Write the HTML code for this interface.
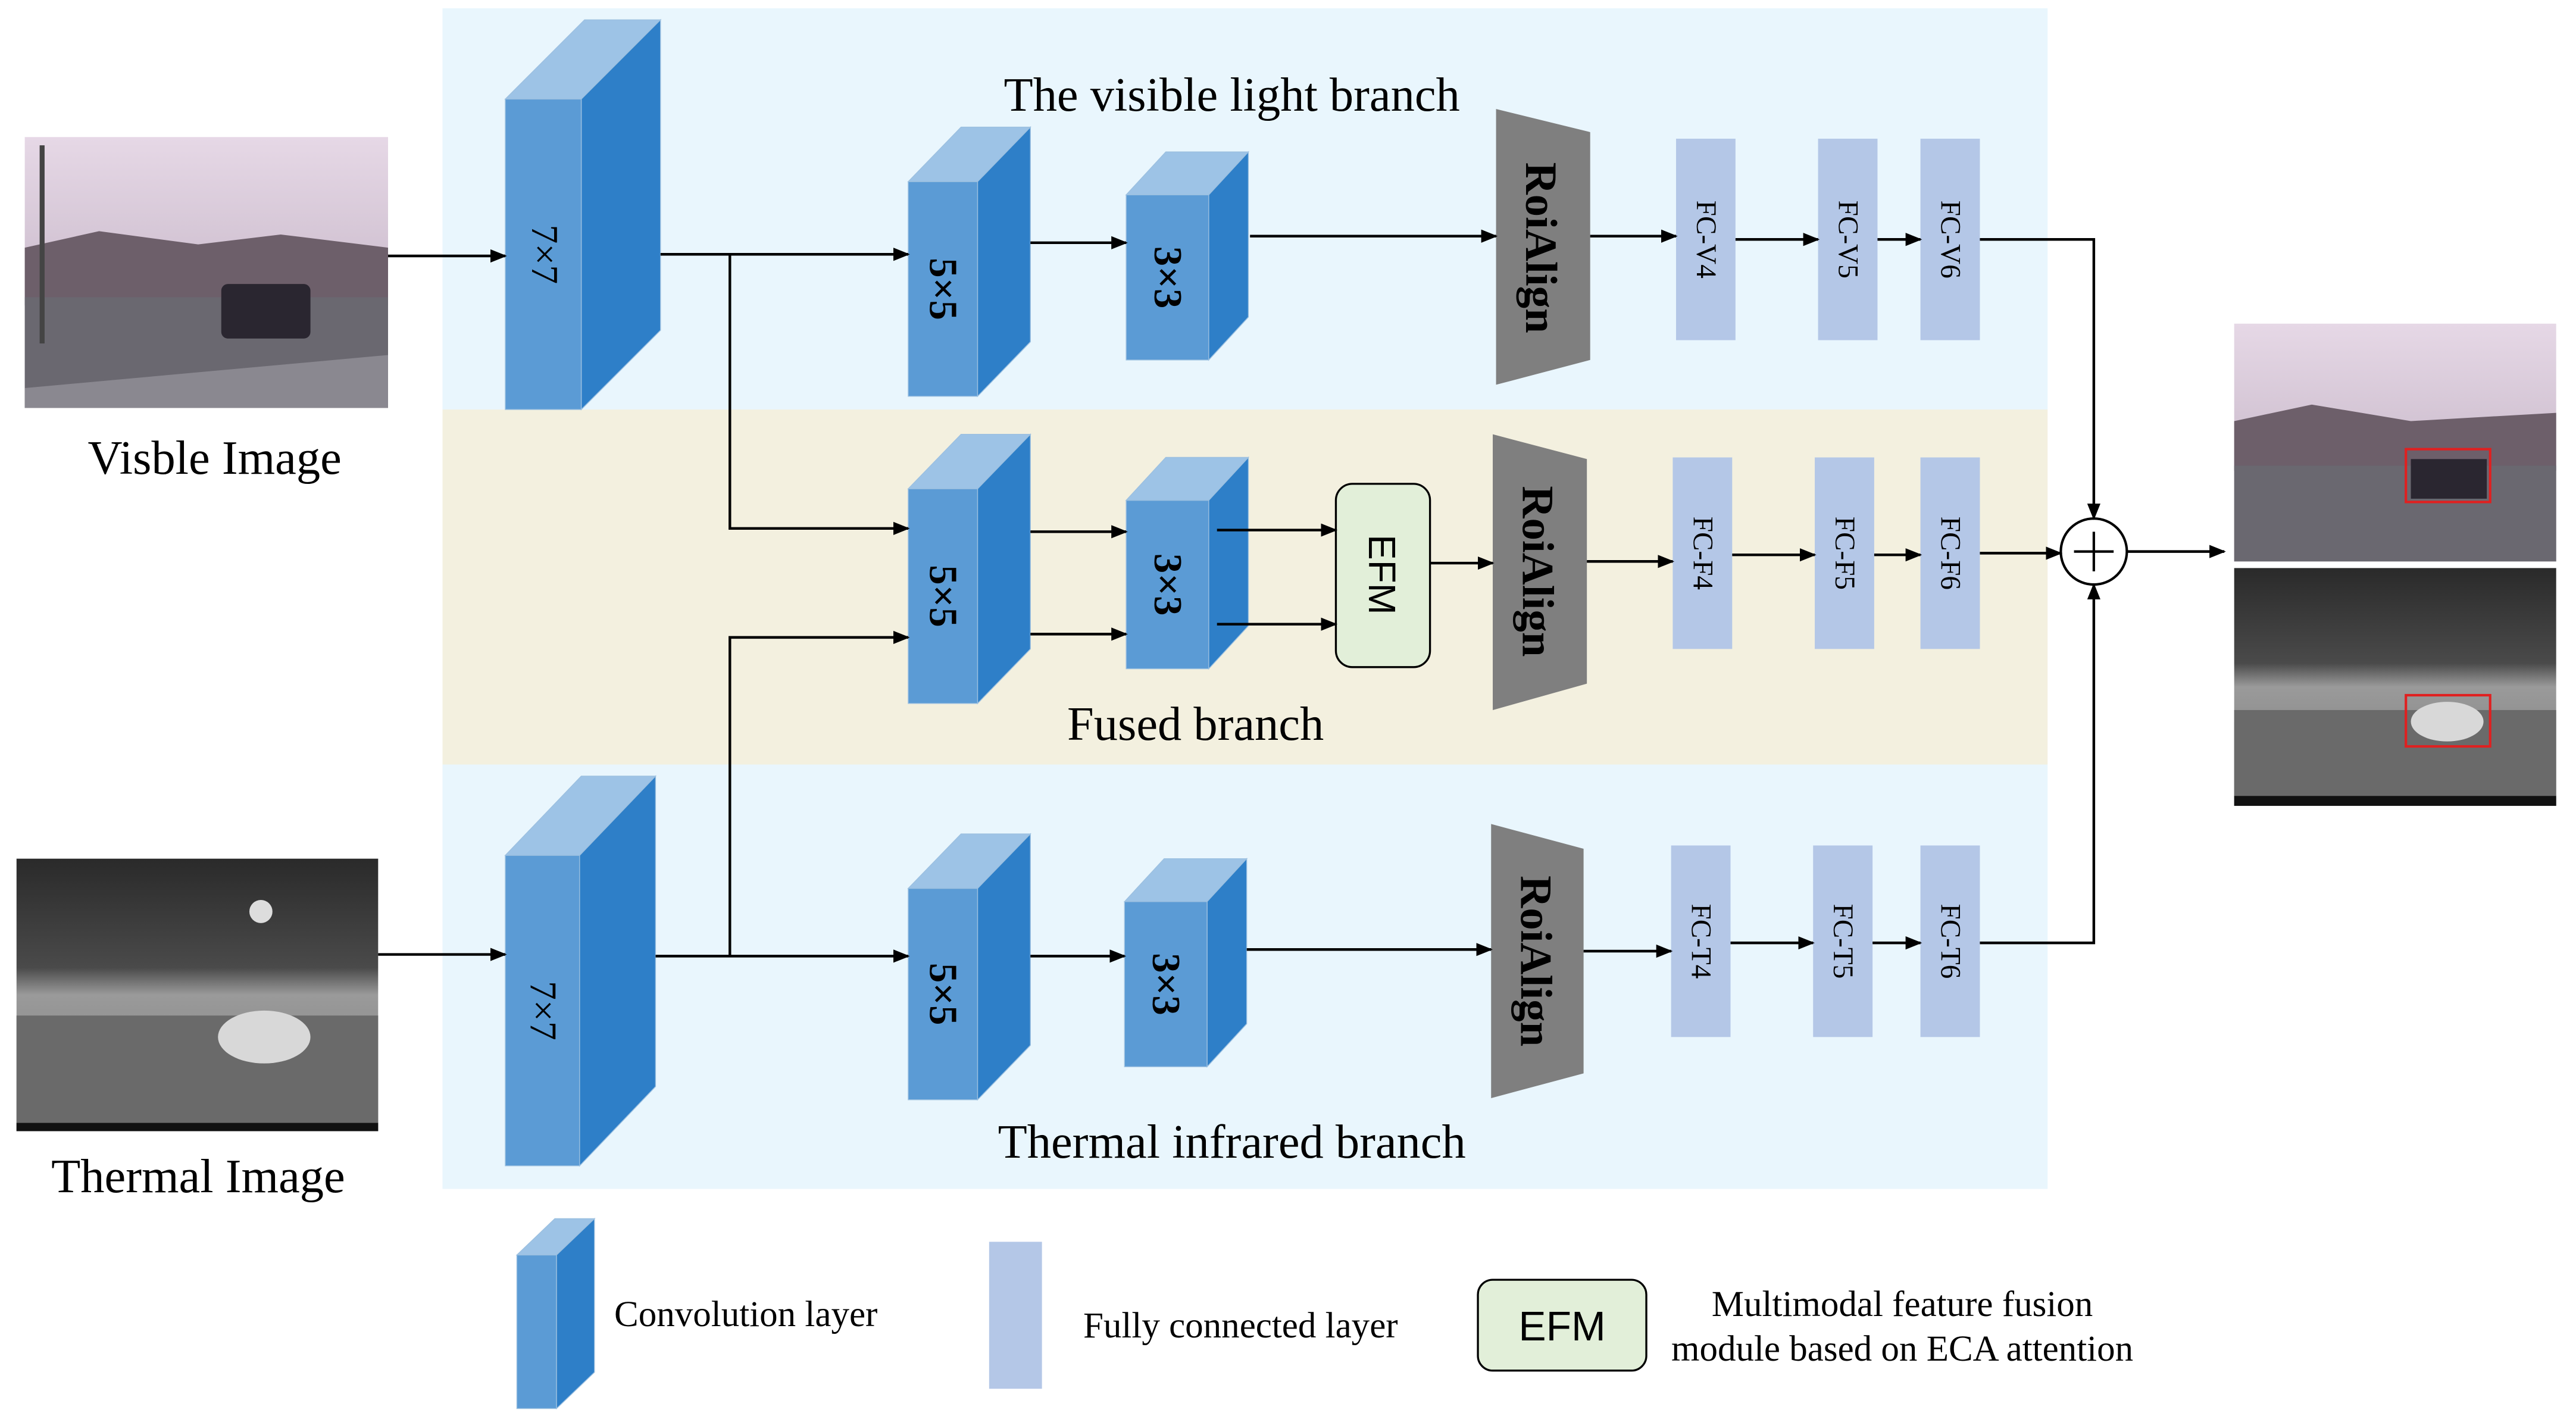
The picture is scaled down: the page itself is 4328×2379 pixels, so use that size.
<!DOCTYPE html>
<html><head><meta charset="utf-8"><style>
html,body{margin:0;padding:0;background:#fff;}
svg{display:block;}
text{font-family:"Liberation Serif",serif;}
</style></head><body>
<svg width="4328" height="2379" viewBox="0 0 1560 857.5" xmlns="http://www.w3.org/2000/svg">
<defs>
<marker id="a" markerWidth="10" markerHeight="10" refX="9" refY="5" orient="auto" markerUnits="userSpaceOnUse">
<path d="M0,1 L10,5 L0,9 Z" fill="#000"/></marker>
<linearGradient id="sky" x1="0" y1="0" x2="0" y2="1"><stop offset="0" stop-color="#e6d8e6"/><stop offset="1" stop-color="#b9a9bb"/></linearGradient>
<linearGradient id="th" x1="0" y1="0" x2="0" y2="1"><stop offset="0" stop-color="#2a2a2a"/><stop offset="0.4" stop-color="#4a4a4a"/><stop offset="0.5" stop-color="#9a9a9a"/><stop offset="1" stop-color="#7a7a7a"/></linearGradient>
</defs>
<rect width="1560" height="858" fill="#fff"/>
<rect x="268" y="5" width="972" height="243" fill="#e9f6fd"/>
<rect x="268" y="248" width="972" height="215" fill="#f3f0df"/>
<rect x="268" y="463" width="972" height="257" fill="#e9f6fd"/>

<rect x="15" y="83" width="220" height="164" fill="url(#sky)"/>
<path d="M15,150 L60,140 L120,148 L170,142 L235,150 L235,185 L15,185Z" fill="#6d5f6a"/>
<rect x="15" y="180" width="220" height="67" fill="#6a6870"/>
<path d="M15,235 L235,215 L235,247 L15,247Z" fill="#8a8890"/>
<rect x="134" y="172" width="54" height="33" rx="4" fill="#2a2630"/>
<rect x="24" y="88" width="3" height="120" fill="#444"/>
<rect x="10" y="520" width="219" height="165" fill="url(#th)"/>
<rect x="10" y="615" width="219" height="70" fill="#6a6a6a"/>
<ellipse cx="160" cy="628" rx="28" ry="16" fill="#d8d8d8"/>
<circle cx="158" cy="552" r="7" fill="#ddd"/>
<rect x="10" y="680" width="219" height="5" fill="#111"/>

<rect x="1353" y="196" width="195" height="144" fill="url(#sky)"/>
<path d="M1353,255 L1400,245 L1460,255 L1548,250 L1548,285 L1353,285Z" fill="#6d5f6a"/>
<rect x="1353" y="282" width="195" height="58" fill="#6a6870"/>
<rect x="1460" y="278" width="46" height="24" fill="#2a2630"/>
<rect x="1457" y="272" width="51" height="32" fill="none" stroke="#e02020" stroke-width="1.5"/>
<rect x="1353" y="344" width="195" height="144" fill="url(#th)"/>
<rect x="1353" y="430" width="195" height="52" fill="#6a6a6a"/>
<ellipse cx="1482" cy="437" rx="22" ry="12" fill="#d8d8d8"/>
<rect x="1353" y="482" width="195" height="6" fill="#111"/>
<rect x="1457" y="421" width="51" height="31" fill="none" stroke="#e02020" stroke-width="1.5"/>

<g stroke="#9cc0e0" stroke-width="0.5">
<path d="M306,60 L354,12 L400,12 L352,60Z" fill="#9dc3e6"/>
<path d="M352,60 L400,12 L400,200 L352,248Z" fill="#2e7fc8"/>
<rect x="306" y="60" width="46" height="188" fill="#5b9bd5"/>
<path d="M306,518 L352,470 L397,470 L351,518Z" fill="#9dc3e6"/>
<path d="M351,518 L397,470 L397,658 L351,706Z" fill="#2e7fc8"/>
<rect x="306" y="518" width="45" height="188" fill="#5b9bd5"/>
<path d="M550,110 L582,77 L624,77 L592,110Z" fill="#9dc3e6"/>
<path d="M592,110 L624,77 L624,207 L592,240Z" fill="#2e7fc8"/>
<rect x="550" y="110" width="42" height="130" fill="#5b9bd5"/>
<path d="M682,118 L706,92 L756,92 L732,118Z" fill="#9dc3e6"/>
<path d="M732,118 L756,92 L756,192 L732,218Z" fill="#2e7fc8"/>
<rect x="682" y="118" width="50" height="100" fill="#5b9bd5"/>
<path d="M550,296 L582,263 L624,263 L592,296Z" fill="#9dc3e6"/>
<path d="M592,296 L624,263 L624,393 L592,426Z" fill="#2e7fc8"/>
<rect x="550" y="296" width="42" height="130" fill="#5b9bd5"/>
<path d="M682,303 L706,277 L756,277 L732,303Z" fill="#9dc3e6"/>
<path d="M732,303 L756,277 L756,379 L732,405Z" fill="#2e7fc8"/>
<rect x="682" y="303" width="50" height="102" fill="#5b9bd5"/>
<path d="M550,538 L582,505 L624,505 L592,538Z" fill="#9dc3e6"/>
<path d="M592,538 L624,505 L624,633 L592,666Z" fill="#2e7fc8"/>
<rect x="550" y="538" width="42" height="128" fill="#5b9bd5"/>
<path d="M681,546 L705,520 L755,520 L731,546Z" fill="#9dc3e6"/>
<path d="M731,546 L755,520 L755,620 L731,646Z" fill="#2e7fc8"/>
<rect x="681" y="546" width="50" height="100" fill="#5b9bd5"/>
<path d="M313,760 L336,738 L360,738 L337,760Z" fill="#9dc3e6"/>
<path d="M337,760 L360,738 L360,831 L337,853Z" fill="#2e7fc8"/>
<rect x="313" y="760" width="24" height="93" fill="#5b9bd5"/>
</g>
<g font-size="24" fill="#000" text-anchor="middle" dominant-baseline="central">
<text transform="translate(330,154) rotate(90)" font-size="23">7×7</text>
<text transform="translate(329,612) rotate(90)" font-size="23">7×7</text>
<text transform="translate(571,175) rotate(90)" font-weight="bold">5×5</text>
<text transform="translate(707,168) rotate(90)" font-weight="bold">3×3</text>
<text transform="translate(571,361) rotate(90)" font-weight="bold">5×5</text>
<text transform="translate(707,354) rotate(90)" font-weight="bold">3×3</text>
<text transform="translate(571,602) rotate(90)" font-weight="bold">5×5</text>
<text transform="translate(706,596) rotate(90)" font-weight="bold">3×3</text>
</g>

<path d="M906,66 L963,80 L963,218 L906,233Z" fill="#7f7f7f"/>
<path d="M904,263 L961,278 L961,414 L904,430Z" fill="#7f7f7f"/>
<path d="M903,499 L959,514 L959,650 L903,665Z" fill="#7f7f7f"/>
<g font-size="27" font-weight="bold" text-anchor="middle" dominant-baseline="central" fill="#000">
<text transform="translate(933,150) rotate(90)">RoiAlign</text>
<text transform="translate(931,346) rotate(90)">RoiAlign</text>
<text transform="translate(930,582) rotate(90)">RoiAlign</text>
</g>

<g fill="#b4c7e7">
<rect x="1015" y="84" width="36" height="122"/><rect x="1101" y="84" width="36" height="122"/><rect x="1163" y="84" width="36" height="122"/>
<rect x="1013" y="277" width="36" height="116"/><rect x="1099" y="277" width="36" height="116"/><rect x="1163" y="277" width="36" height="116"/>
<rect x="1012" y="512" width="36" height="116"/><rect x="1098" y="512" width="36" height="116"/><rect x="1163" y="512" width="36" height="116"/>
<rect x="599" y="752" width="32" height="89"/>
</g>
<g font-size="17" text-anchor="middle" dominant-baseline="central" fill="#000">
<text transform="translate(1033,145) rotate(90)">FC-V4</text>
<text transform="translate(1119,145) rotate(90)">FC-V5</text>
<text transform="translate(1181,145) rotate(90)">FC-V6</text>
<text transform="translate(1031,335) rotate(90)">FC-F4</text>
<text transform="translate(1117,335) rotate(90)">FC-F5</text>
<text transform="translate(1181,335) rotate(90)">FC-F6</text>
<text transform="translate(1030,570) rotate(90)">FC-T4</text>
<text transform="translate(1116,570) rotate(90)">FC-T5</text>
<text transform="translate(1181,570) rotate(90)">FC-T6</text>
</g>

<rect x="809" y="293" width="57" height="111" rx="10" fill="#e2efd9" stroke="#000" stroke-width="1.2"/>
<text transform="translate(837,348) rotate(90)" font-size="23" text-anchor="middle" dominant-baseline="central" style="font-family:'Liberation Sans',sans-serif">EFM</text>
<rect x="895" y="775" width="102" height="55" rx="9" fill="#e2efd9" stroke="#000" stroke-width="1.2"/>
<text x="946" y="803" font-size="25" text-anchor="middle" dominant-baseline="central" style="font-family:'Liberation Sans',sans-serif">EFM</text>

<circle cx="1268" cy="334" r="20" fill="#fff" stroke="#000" stroke-width="1.5"/>
<path d="M1256,334 H1280 M1268,322 V346" stroke="#000" stroke-width="1.5"/>

<g stroke="#000" stroke-width="1.6" fill="none" marker-end="url(#a)">
<path d="M235,155 H306"/>
<path d="M400,154 H550"/>
<path d="M442,154 V320 H550"/>
<path d="M624,147 H682"/>
<path d="M757,143 H906"/>
<path d="M963,143 H1015"/>
<path d="M1051,145 H1101"/>
<path d="M1137,145 H1163"/>
<path d="M1199,145 H1268 V314"/>
<path d="M624,322 H682"/>
<path d="M624,384 H682"/>
<path d="M737,321 H809"/>
<path d="M737,378 H809"/>
<path d="M866,341 H904"/>
<path d="M961,340 H1013"/>
<path d="M1049,336 H1099"/>
<path d="M1135,336 H1163"/>
<path d="M1199,335 H1248"/>
<path d="M229,578 H306"/>
<path d="M397,579 H550"/>
<path d="M442,579 V386 H550"/>
<path d="M624,579 H681"/>
<path d="M755,575 H903"/>
<path d="M959,576 H1012"/>
<path d="M1048,571 H1098"/>
<path d="M1134,571 H1163"/>
<path d="M1199,571 H1268 V354"/>
<path d="M1288,334 H1347"/>
</g>

<g font-size="29" text-anchor="middle" fill="#000">
<text x="746" y="67">The visible light branch</text>
<text x="724" y="448">Fused branch</text>
<text x="746" y="701">Thermal infrared branch</text>
<text x="130" y="287">Visble Image</text>
<text x="120" y="722">Thermal Image</text>
</g>
<g font-size="22" fill="#000">
<text x="372" y="803">Convolution layer</text>
<text x="656" y="810">Fully connected layer</text>
<text x="1152" y="797" text-anchor="middle">Multimodal feature fusion</text>
<text x="1152" y="824" text-anchor="middle">module based on ECA attention</text>
</g>
</svg>
</body></html>
